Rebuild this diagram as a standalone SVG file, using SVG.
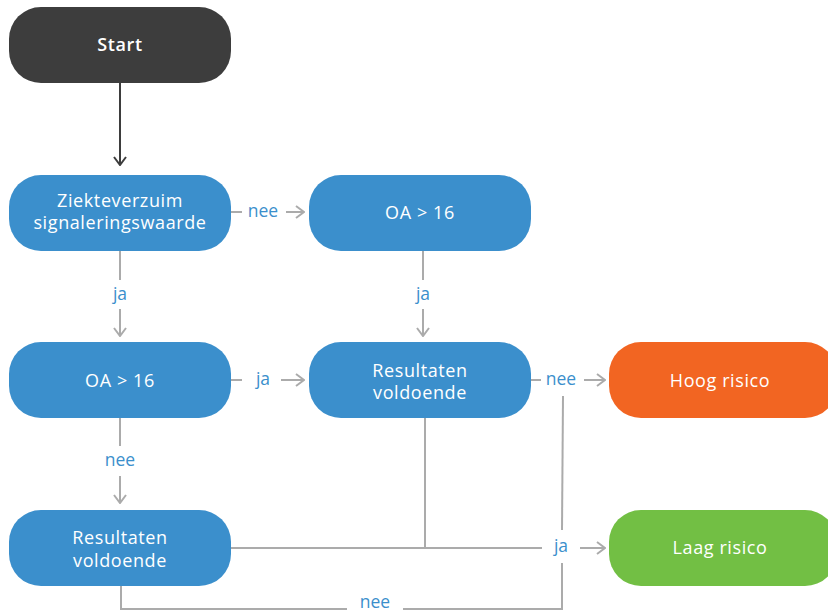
<svg xmlns="http://www.w3.org/2000/svg" width="828" height="613" viewBox="0 0 828 613">
<style>
.blue{fill:#3b8fcc}
.t{font-family:"Open Sans",Lato,sans-serif;font-size:18px;letter-spacing:0.6px;fill:#ffffff;text-anchor:middle}
.lbl{font-family:"Open Sans",Lato,sans-serif;font-size:17.5px;fill:#3b8fcc;text-anchor:middle}
.c{fill:none;stroke:#ababab;stroke-width:2}
</style>
<defs>
<marker id="a" viewBox="0 0 10 14" refX="9" refY="7" markerWidth="10" markerHeight="14" markerUnits="userSpaceOnUse" orient="auto">
<path d="M1,1 L9,7 L1,13" fill="none" stroke="#ababab" stroke-width="2"/>
</marker>
<marker id="ad" viewBox="0 0 10 14" refX="9" refY="7" markerWidth="10" markerHeight="14" markerUnits="userSpaceOnUse" orient="auto">
<path d="M1,1 L9,7 L1,13" fill="none" stroke="#3d3d3d" stroke-width="2"/>
</marker>
</defs>
<g id="connectors">
<path d="M120,83 V165" fill="none" stroke="#3d3d3d" stroke-width="2" marker-end="url(#ad)"/>
<path class="c" d="M231,212 H242"/>
<text class="lbl" x="263" y="217">nee</text>
<path class="c" d="M286,212 H304" marker-end="url(#a)"/>
<path class="c" d="M120,251 V280"/>
<text class="lbl" x="120" y="300">ja</text>
<path class="c" d="M120,309 V336" marker-end="url(#a)"/>
<path class="c" d="M423,251 V280"/>
<text class="lbl" x="423" y="300">ja</text>
<path class="c" d="M423,309 V336" marker-end="url(#a)"/>
<path class="c" d="M231,380 H242"/>
<text class="lbl" x="263" y="385">ja</text>
<path class="c" d="M281,380 H304" marker-end="url(#a)"/>
<path class="c" d="M120,418 V446"/>
<text class="lbl" x="120" y="466">nee</text>
<path class="c" d="M120,476 V503" marker-end="url(#a)"/>
<path class="c" d="M531,380 H541"/>
<text class="lbl" x="561" y="385">nee</text>
<path class="c" d="M584,380 H605" marker-end="url(#a)"/>
<path class="c" d="M231,548 H542"/>
<path class="c" d="M425,418 V548"/>
<text class="lbl" x="561" y="552">ja</text>
<path class="c" d="M580,548 H605" marker-end="url(#a)"/>
<path class="c" d="M563,396 L562,530"/>
<path class="c" d="M562,563 V609 H403"/>
<text class="lbl" x="375" y="608">nee</text>
<path class="c" d="M347,609 H121 V586"/>
</g>
<g id="start">
<rect x="9" y="7" width="222" height="76" rx="32" fill="#3d3d3d"/>
<text class="t" x="120" y="51" font-weight="600" font-size="20">Start</text>
</g>
<g id="ziekteverzuim">
<rect class="blue" x="9" y="175" width="222" height="76" rx="32"/>
<text class="t" x="120" y="207">Ziekteverzuim</text>
<text class="t" x="120" y="229">signaleringswaarde</text>
</g>
<g id="oa1">
<rect class="blue" x="309" y="175" width="222" height="76" rx="32"/>
<text class="t" x="420" y="219">OA &gt; 16</text>
</g>
<g id="oa2">
<rect class="blue" x="9" y="342" width="222" height="76" rx="32"/>
<text class="t" x="120" y="387">OA &gt; 16</text>
</g>
<g id="res1">
<rect class="blue" x="309" y="342" width="222" height="76" rx="32"/>
<text class="t" x="420" y="377">Resultaten</text>
<text class="t" x="420" y="399">voldoende</text>
</g>
<g id="hoog">
<rect x="609" y="342" width="228" height="76" rx="32" fill="#f26522"/>
<text class="t" x="720" y="387">Hoog risico</text>
</g>
<g id="res2">
<rect class="blue" x="9" y="510" width="222" height="76" rx="32"/>
<text class="t" x="120" y="544">Resultaten</text>
<text class="t" x="120" y="567">voldoende</text>
</g>
<g id="laag">
<rect x="609" y="510" width="228" height="76" rx="32" fill="#72bf44"/>
<text class="t" x="720" y="554">Laag risico</text>
</g>
</svg>
